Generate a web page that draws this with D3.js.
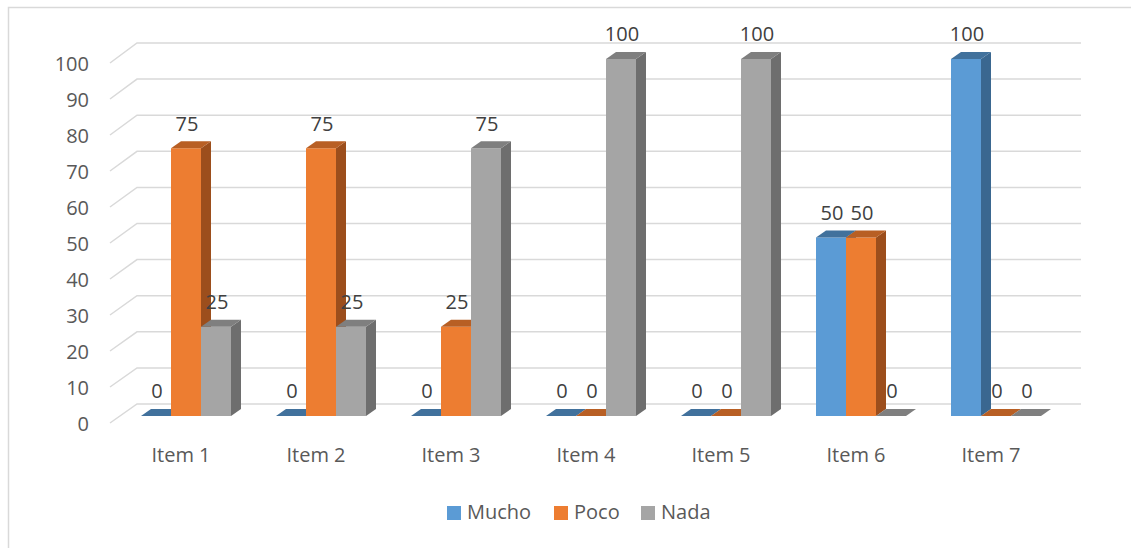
<!DOCTYPE html>
<html><head><meta charset="utf-8">
<script src="https://cdn.jsdelivr.net/npm/d3@7"></script>
<style>body{margin:0;background:#fff}svg{display:block}text{font-family:"Open Sans",sans-serif;fill:#595959}</style>
</head><body><svg id="c" width="1131" height="548"></svg>
<script>
const categories = ["Item 1","Item 2","Item 3","Item 4","Item 5","Item 6","Item 7"];
const seriesNames = ["Mucho","Poco","Nada"];
const mucho = [0,0,0,0,0,50,100];
const poco  = [75,75,25,0,0,50,0];
const nada  = [25,25,75,100,100,0,0];
const yTicks = [0,10,20,30,40,50,60,70,80,90,100];
const values = [mucho, poco, nada];
const front = ["#5B9BD5","#ED7D31","#A5A5A5"];
const topC  = ["#41719C","#B85F24","#7F7F7F"];
const side  = ["#3A6790","#9C4E1C","#6E6E6E"];

const svg = d3.select("#c");
// border
svg.append("path").attr("d","M8.5,548 V7.5 H1131").attr("fill","none").attr("stroke","#D9D9D9").attr("stroke-width",1.5);

const yBack = d3.scaleLinear().domain([0,100]).range([404,43]);
const yFront = d3.scaleLinear().domain([0,100]).range([423,63]);
const yBar = d3.scaleLinear().domain([0,100]).range([416,59]);
const x = d3.scaleBand().domain(categories).range([118.5,1063.5]).padding(0);
const xs = d3.scaleBand().domain(seriesNames).range([0,90]);
const dx = 10, dy = 7;

// gridlines
const g = svg.append("g");
yTicks.forEach(t=>{
  g.append("path").attr("d",`M110,${yFront(t)} L137,${yBack(t)} H1081`)
   .attr("fill","none").attr("stroke","#D9D9D9").attr("stroke-width",1.5);
  svg.append("text").attr("x",89).attr("y",yFront(t)+3).attr("text-anchor","end")
   .attr("dominant-baseline","middle").attr("font-size",20).text(t);
});

// bars
const bars = svg.append("g");
categories.forEach((c,i)=>{
  const cx = x(c)+x.bandwidth()/2;
  const x0g = cx-45;
  seriesNames.forEach((s,j)=>{
    const v = values[j][i];
    const x0 = x0g+xs(s), w = xs.bandwidth();
    const y0 = yBar(0), y1 = yBar(v);
    if (v>0){
      bars.append("rect").attr("x",x0).attr("y",y1).attr("width",w).attr("height",y0-y1).attr("fill",front[j]);
      bars.append("path").attr("d",`M${x0+w},${y1} L${x0+w+dx},${y1-dy} L${x0+w+dx},${y0-dy} L${x0+w},${y0}Z`).attr("fill",side[j]);
    }
    bars.append("path").attr("d",`M${x0},${y1} L${x0+dx},${y1-dy} L${x0+w+dx},${y1-dy} L${x0+w},${y1}Z`).attr("fill",topC[j]);
    svg.append("text").attr("x",x0+w/2+1).attr("y",y1-23).attr("text-anchor","middle")
      .attr("dominant-baseline","middle").attr("font-size",20).attr("fill","#404040").style("fill","#404040").text(v);
  });
  svg.append("text").attr("x",cx-5).attr("y",457).attr("text-anchor","middle")
    .attr("dominant-baseline","middle").attr("font-size",20).text(c);
});

// legend
const legX = [447,554,641];
seriesNames.forEach((s,j)=>{
  svg.append("rect").attr("x",legX[j]).attr("y",506).attr("width",14).attr("height",14).attr("fill",front[j]);
  svg.append("text").attr("x",legX[j]+20).attr("y",514).attr("dominant-baseline","middle").attr("font-size",20).text(s);
});
</script></body></html>
